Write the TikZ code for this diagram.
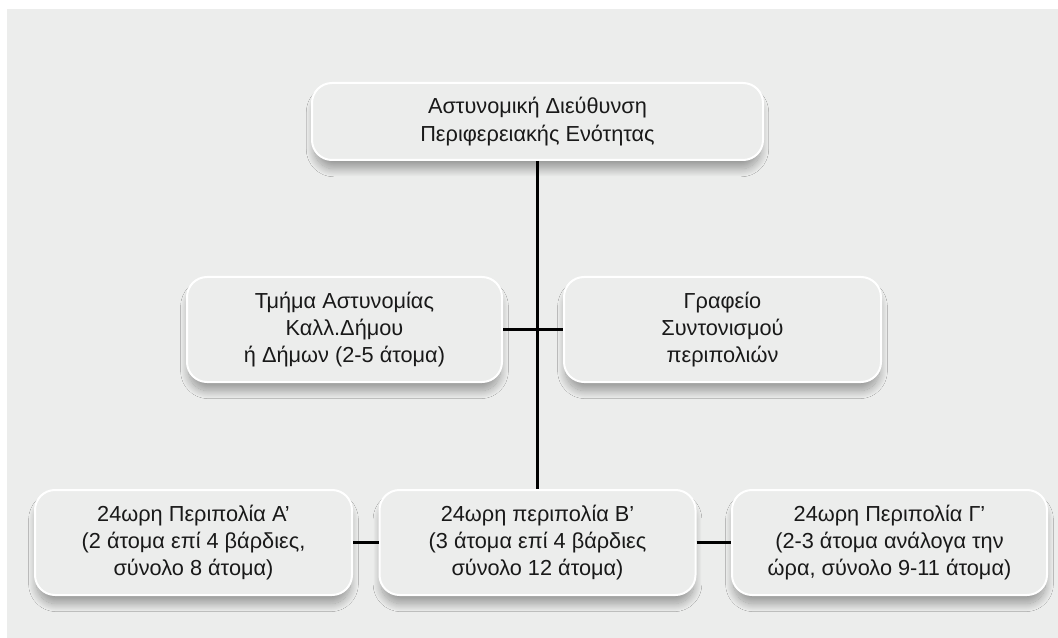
\documentclass[tikz,border=0pt]{standalone}
\usepackage{fontspec}
\setmainfont{Liberation Sans}
\usetikzlibrary{shadows.blur}
\definecolor{bggray}{RGB}{236,237,236}
\definecolor{txtgray}{RGB}{25,25,25}
\tikzset{every picture/.style={line width=0.75pt}}
\tikzset{
  unitbox/.style={draw=white, line width=1.5pt, fill=bggray, rounded corners=15pt,
    align=center, text=txtgray, inner sep=0pt,
    font=\fontsize{16.3}{20.5}\selectfont,
    blur shadow={shadow xshift=0pt, shadow yshift=-7pt, shadow blur radius=6pt,
      shadow blur steps=20, shadow opacity=35, shadow scale=0.99}},
  link/.style={line width=2pt, black}
}

\begin{document}
\begin{tikzpicture}[x=0.75pt,y=0.75pt,yscale=-1,xscale=1]
\useasboundingbox (0,0) rectangle (1058,638);
% background
\fill [bggray] (7,9) rectangle (1058,638);

% Text Node
\node [unitbox, minimum width=338.25pt, minimum height=57.75pt] (head) at (537.5,121.5) {Αστυνομική Διεύθυνση\\Περιφερειακής Ενότητας};
% Text Node
\node [unitbox, minimum width=236.25pt, minimum height=78.75pt] (dept) at (344.5,329.5) {Τμήμα Αστυνομίας\\Καλλ.Δήμου\\ή Δήμων (2-5 άτομα)};
% Text Node
\node [unitbox, minimum width=237.75pt, minimum height=78.75pt] (office) at (722.5,329.5) {Γραφείο\\Συντονισμού\\περιπολιών};
% Text Node
\node [unitbox, minimum width=237.75pt, minimum height=78.75pt] (patrolA) at (193.5,542.5) {24ωρη Περιπολία Α’\\(2 άτομα επί 4 βάρδιες,\\σύνολο 8 άτομα)};
% Text Node
\node [unitbox, minimum width=237pt, minimum height=78.75pt] (patrolB) at (537.5,542.5) {24ωρη περιπολία Β’\\(3 άτομα επί 4 βάρδιες\\σύνολο 12 άτομα)};
% Text Node
\node [unitbox, minimum width=236.25pt, minimum height=78.75pt] (patrolC) at (889.5,542.5) {24ωρη Περιπολία Γ’\\(2-3 άτομα ανάλογα την\\ώρα, σύνολο 9-11 άτομα)};

%Straight Lines
\draw [link] (head) -- (patrolB);
\draw [link] (dept) -- (office);
\draw [link] (patrolA) -- (patrolB);
\draw [link] (patrolB) -- (patrolC);

\end{tikzpicture}
\end{document}
